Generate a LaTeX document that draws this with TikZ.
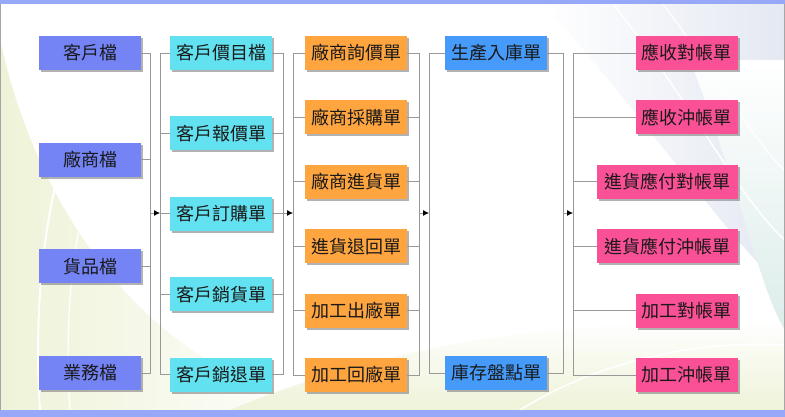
\documentclass[tikz,border=0pt]{standalone}
\usepackage{fontspec}
\newfontfamily\cjkfont{Noto Sans CJK TC}
\usetikzlibrary{positioning,arrows.meta,shadows}
\definecolor{fileblue}{HTML}{7484F5}
\definecolor{custcyan}{HTML}{62E2F0}
\definecolor{vendorange}{HTML}{FFA540}
\definecolor{stockblue}{HTML}{469BFA}
\definecolor{billpink}{HTML}{FA5096}
\definecolor{bandblue}{HTML}{98A8F8}
\definecolor{palegreen}{HTML}{EEF3D8}
\definecolor{palesky}{HTML}{E4E8F2}
\definecolor{paleteal}{HTML}{DCEDEA}
\begin{document}
\begin{tikzpicture}[x=1pt,y=1pt,
    box/.style={minimum width=102pt,minimum height=34pt,inner sep=0pt,
        font=\cjkfont\fontsize{18}{21}\selectfont,text=black!90,
        drop shadow={shadow xshift=2pt,shadow yshift=-2pt,fill=black!50,opacity=0.6}},
    file node/.style={box,fill=fileblue},
    cust node/.style={box,fill=custcyan},
    vend node/.style={box,fill=vendorange},
    stock node/.style={box,fill=stockblue},
    bill node/.style={box,fill=billpink},
    wide/.style={minimum width=141pt},
    link/.style={draw=black!40,line width=0.8pt},
    flow/.style={link,-{Latex[length=6pt,width=6pt,black]}}]

    % Background
    \useasboundingbox (0,0) rectangle (785,-417);
    \fill[white] (0,0) rectangle (785,-417);
    \shade[left color=palegreen,right color=white] (0,-40) .. controls (40,-220) and (150,-370) .. (330,-410) -- (0,-410) -- cycle;
    \shade[bottom color=palegreen,top color=white] (230,-410) .. controls (400,-340) and (560,-320) .. (785,-320) -- (785,-410) -- cycle;
    \shade[left color=white,right color=palesky] (540,0) .. controls (640,-110) and (720,-230) .. (785,-290) -- (785,0) -- cycle;
    \shade[top color=white,bottom color=paleteal] (690,-60) .. controls (740,-190) and (760,-290) .. (785,-330) -- (785,-60) -- cycle;
    \draw[white,line width=2pt] (40,-410) .. controls (30,-250) and (60,-120) .. (120,-20);
    \draw[white,line width=1.2pt] (70,-410) .. controls (60,-260) and (90,-140) .. (150,-30);
    \draw[white,line width=1.5pt] (610,0) .. controls (690,-100) and (740,-200) .. (785,-240);
    \draw[white,line width=1.2pt] (660,0) .. controls (720,-80) and (760,-150) .. (785,-170);
    \draw[white,line width=1.5pt] (520,-410) .. controls (600,-360) and (700,-340) .. (785,-345);
    \fill[bandblue] (0,0) rectangle (785,-4);
    \fill[bandblue] (0,-410) rectangle (785,-417);
    \draw[black!35] (0.5,-4) -- (0.5,-410);
    \draw[black!35] (784.5,-4) -- (784.5,-410);

    % Define vertices
    \node[file node] (k1) at (90,-53) {客戶檔};
    \node[file node,below=72.3pt of k1] (k2) {廠商檔};
    \node[file node,below=72.3pt of k2] (k3) {貨品檔};
    \node[file node,below=72.3pt of k3] (k4) {業務檔};

    \node[cust node] (p1) at (221,-53) {客戶價目檔};
    \node[cust node,below=46pt of p1] (p2) {客戶報價單};
    \node[cust node,below=46pt of p2] (p3) {客戶訂購單};
    \node[cust node,below=46pt of p3] (p4) {客戶銷貨單};
    \node[cust node,below=46pt of p4] (p5) {客戶銷退單};

    \node[vend node] (v1) at (356,-53) {廠商詢價單};
    \node[vend node,below=30pt of v1] (v2) {廠商採購單};
    \node[vend node,below=30pt of v2] (v3) {廠商進貨單};
    \node[vend node,below=30pt of v3] (v4) {進貨退回單};
    \node[vend node,below=30pt of v4] (v5) {加工出廠單};
    \node[vend node,below=30pt of v5] (v6) {加工回廠單};

    \node[stock node] (s1) at (496,-53) {生產入庫單};
    \node[stock node] (s2) at (496,-373) {庫存盤點單};

    \node[bill node,anchor=east] (b1) at (738,-53) {應收對帳單};
    \node[bill node,below=30pt of b1.south east,anchor=north east] (b2) {應收沖帳單};
    \node[bill node,wide,below=30pt of b2.south east,anchor=north east] (b3) {進貨應付對帳單};
    \node[bill node,wide,below=30pt of b3.south east,anchor=north east] (b4) {進貨應付沖帳單};
    \node[bill node,below=30pt of b4.south east,anchor=north east] (b5) {加工對帳單};
    \node[bill node,below=30pt of b5.south east,anchor=north east] (b6) {加工沖帳單};

    % Bus points
    \coordinate (j1) at (150,-213);
    \coordinate (j2) at (160,-213);
    \coordinate (j3) at (283,-213);
    \coordinate (j4) at (293,-213);
    \coordinate (j5) at (419,-213);
    \coordinate (j6) at (429,-213);
    \coordinate (j7) at (563,-213);
    \coordinate (j8) at (573,-213);

    % Draw edges
    \foreach \n in {k1,k2,k3,k4} \draw[link] (\n.east) -| (j1);
    \foreach \n in {p1,p2,p3,p4,p5} \draw[link] (j2) |- (\n.west);
    \foreach \n in {p1,p2,p3,p4,p5} \draw[link] (\n.east) -| (j3);
    \foreach \n in {v1,v2,v3,v4,v5,v6} \draw[link] (j4) |- (\n.west);
    \foreach \n in {v1,v2,v3,v4,v5,v6} \draw[link] (\n.east) -| (j5);
    \foreach \n in {s1,s2} \draw[link] (j6) |- (\n.west);
    \foreach \n in {s1,s2} \draw[link] (\n.east) -| (j7);
    \foreach \n in {b1,b2,b3,b4,b5,b6} \draw[link] (j8) |- (\n.west);
    \draw[flow] (j1) -- (j2);
    \draw[flow] (j3) -- (j4);
    \draw[flow] (j5) -- (j6);
    \draw[flow] (j7) -- (j8);

\end{tikzpicture}
\end{document}
